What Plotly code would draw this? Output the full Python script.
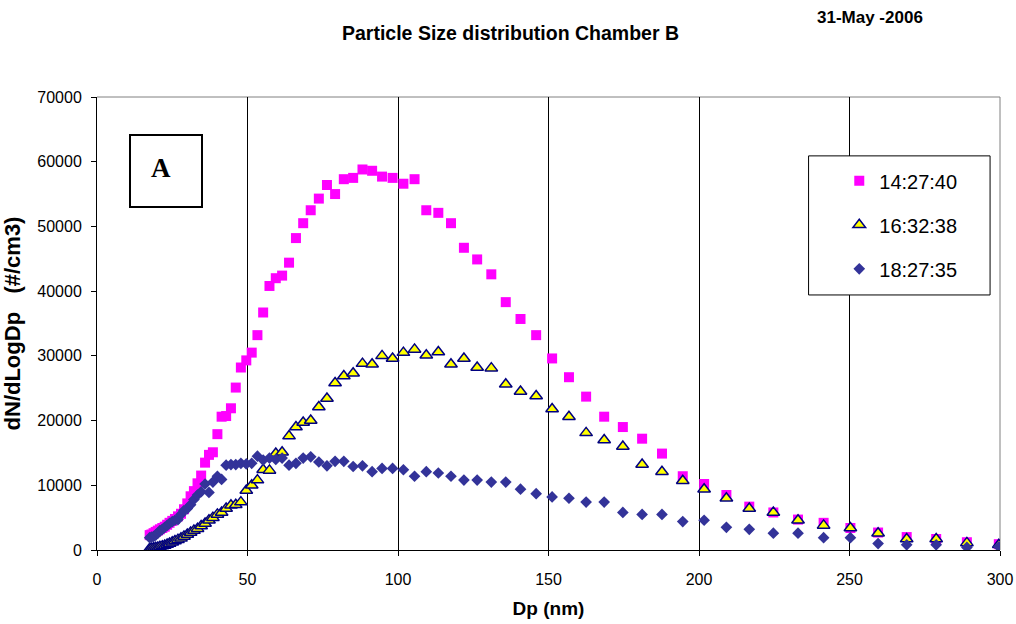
import plotly.graph_objects as go

dp_nm = [
    17.5, 18.1, 18.8, 19.5, 20.2, 20.9, 21.7, 22.5, 23.3, 24.1,
    25.0, 25.9, 26.9, 27.9, 28.9, 30.0, 31.1, 32.2, 33.4, 34.6,
    35.9, 37.2, 38.5, 40.0, 41.4, 42.9, 44.5, 46.1, 47.8, 49.6,
    51.4, 53.3, 55.2, 57.3, 59.4, 61.5, 63.8, 66.1, 68.5, 71.0,
    73.7, 76.4, 79.1, 82.0, 85.1, 88.2, 91.4, 94.7, 98.2, 101.8,
    105.5, 109.4, 113.4, 117.6, 121.9, 126.3, 131.0, 135.8, 140.7, 145.9,
    151.2, 156.8, 162.5, 168.5, 174.7, 181.1, 187.7, 194.6, 201.7, 209.1,
    216.7, 224.7, 232.9, 241.4, 250.3, 259.5, 269.0, 278.8, 289.0, 299.6,
]

s_142740 = [
    2300, 2400, 2600, 2800, 3000, 3200, 3400, 3600, 3900, 4200,
    4500, 4800, 5200, 5600, 6300, 7200, 8300, 9100, 10300, 11500,
    13500, 14700, 15100, 17900, 20600, 20700, 21900, 25100, 28200, 29300,
    30500, 33200, 36700, 40800, 42000, 42400, 44400, 48200, 50500, 52500,
    54300, 56400, 55000, 57300, 57500, 58800, 58600, 57700, 57500, 56600,
    57300, 52500, 52100, 50500, 46700, 44900, 42600, 38300, 35700, 33200,
    29600, 26700, 23700, 20600, 19000, 17200, 14900, 11400, 10200, 8500,
    6700, 5800, 4700, 4200, 3400, 2700, 2000, 1700, 1200, 900,
]

s_163238 = [
    200, 250, 300, 350, 400, 500, 600, 700, 850, 1000,
    1200, 1400, 1600, 1800, 2100, 2400, 2700, 3000, 3300, 3700,
    4100, 4600, 5000, 5500, 5800, 6400, 6900, 7000, 7400, 9200,
    10000, 10800, 12400, 12300, 14900, 15100, 17600, 19000, 19700, 20000,
    22100, 23400, 25800, 26900, 27300, 28800, 28700, 30000, 29600, 30500,
    31000, 30100, 30600, 28700, 29600, 28200, 28100, 25600, 24500, 23800,
    21800, 20600, 18100, 17000, 16000, 13200, 12100, 10700, 9400, 8000,
    6400, 5800, 4600, 3800, 3400, 2600, 1700, 1700, 1100, 800,
]

s_182735 = [
    1900, 2000, 2100, 2300, 2600, 3000, 3200, 3500, 3800, 4100,
    4400, 4600, 4700, 5500, 6100, 6400, 7000, 7800, 8500, 9000,
    10200, 8900, 10500, 11400, 10900, 13100, 13200, 13200, 13400, 13300,
    13400, 14500, 13900, 14200, 14000, 14200, 13100, 13400, 14200, 14400,
    13600, 13000, 13700, 13700, 12900, 13000, 12100, 12600, 12600, 12400,
    11400, 12100, 11900, 11400, 10800, 10800, 10500, 10500, 9400, 8700,
    8200, 8000, 7400, 7400, 5800, 5500, 5500, 4400, 4600, 3500,
    3200, 2600, 2600, 1900, 1900, 1000, 800, 800, 400, 500,
]

x_ticks = [0, 50, 100, 150, 200, 250, 300]
y_ticks = [0, 10000, 20000, 30000, 40000, 50000, 60000, 70000]

FONT = "Arial, Liberation Sans, sans-serif"

fig = go.Figure()
fig.add_trace(go.Scatter(
    x=dp_nm, y=s_142740, mode="markers", name="14:27:40", legendgroup="a",
    marker=dict(symbol="square", size=10, color="#FF00FF", line=dict(width=0)),
))
fig.add_trace(go.Scatter(
    x=dp_nm, y=s_163238, mode="markers", name="16:32:38", legendgroup="b",
    marker=dict(symbol="triangle-up", size=11, color="#FFFF00",
                line=dict(color="#000080", width=1.5)),
))
fig.add_trace(go.Scatter(
    x=dp_nm, y=s_182735, mode="markers", name="18:27:35", legendgroup="c",
    marker=dict(symbol="diamond", size=9, color="#333399", line=dict(width=0)),
))

fig.update_layout(
    width=1016, height=624,
    margin=dict(l=97, r=16, t=97, b=74),
    paper_bgcolor="white", plot_bgcolor="white",
    font=dict(family=FONT, size=16, color="black"),
    showlegend=True,
    legend=dict(
        x=0.822, y=0.858, xanchor="left", yanchor="top",
        bgcolor="rgba(0,0,0,0)", borderwidth=0,
        font=dict(size=20, family=FONT),
        tracegroupgap=15, traceorder="grouped",
    ),
    xaxis=dict(
        range=[0, 300], tickvals=x_ticks, ticks="outside", ticklen=5,
        tickcolor="black", showline=True, linecolor="black", linewidth=1,
        showgrid=True, gridcolor="black", gridwidth=1, zeroline=False,
        automargin=False, ticklabelstandoff=10,
        title=dict(text="<b>Dp (nm)</b>", font=dict(size=19), standoff=14),
        tickfont=dict(size=16),
    ),
    yaxis=dict(
        range=[0, 70000], tickvals=y_ticks, ticks="outside", ticklen=5,
        tickcolor="black", showline=True, linecolor="black", linewidth=1,
        showgrid=False, zeroline=False, tickformat="d",
        automargin=False, ticklabelstandoff=6,
        title=dict(text="<b>dN/dLogDp&nbsp;&nbsp; (#/cm3)</b>", font=dict(size=22), standoff=11),
        tickfont=dict(size=16),
    ),
    shapes=[
        dict(type="line", xref="paper", yref="paper", x0=0, x1=1, y0=1, y1=1,
             line=dict(color="#808080", width=1), layer="below"),
        dict(type="line", xref="paper", yref="paper", x0=1, x1=1, y0=0, y1=1,
             line=dict(color="#808080", width=1), layer="below"),
        dict(type="rect", xref="paper", yref="paper",
             x0=0.788, x1=0.989, y0=0.563, y1=0.870,
             line=dict(color="black", width=1), fillcolor="white", layer="above"),
        dict(type="rect", xref="paper", yref="paper",
             x0=(130 - 97) / 903, x1=(202 - 97) / 903,
             y0=(550 - 207) / 453, y1=(550 - 135) / 453,
             line=dict(color="black", width=2), fillcolor="white", layer="above"),
    ],
    annotations=[
        dict(text="<b>Particle Size distribution Chamber B</b>", xref="paper", yref="paper",
             x=(510 - 97) / 903, y=(550 - 33) / 453, xanchor="center", yanchor="middle",
             showarrow=False, font=dict(size=19.5, family=FONT)),
        dict(text="<b>31-May -2006</b>", xref="paper", yref="paper",
             x=(870 - 97) / 903, y=(550 - 17) / 453, xanchor="center", yanchor="middle",
             showarrow=False, font=dict(size=17, family=FONT)),
        dict(text="<b>A</b>", xref="paper", yref="paper",
             x=(161 - 97) / 903, y=(550 - 168) / 453, xanchor="center", yanchor="middle",
             showarrow=False, font=dict(size=27, family="Liberation Serif, Times New Roman, serif")),
    ],
)

fig.write_html("out.html")
